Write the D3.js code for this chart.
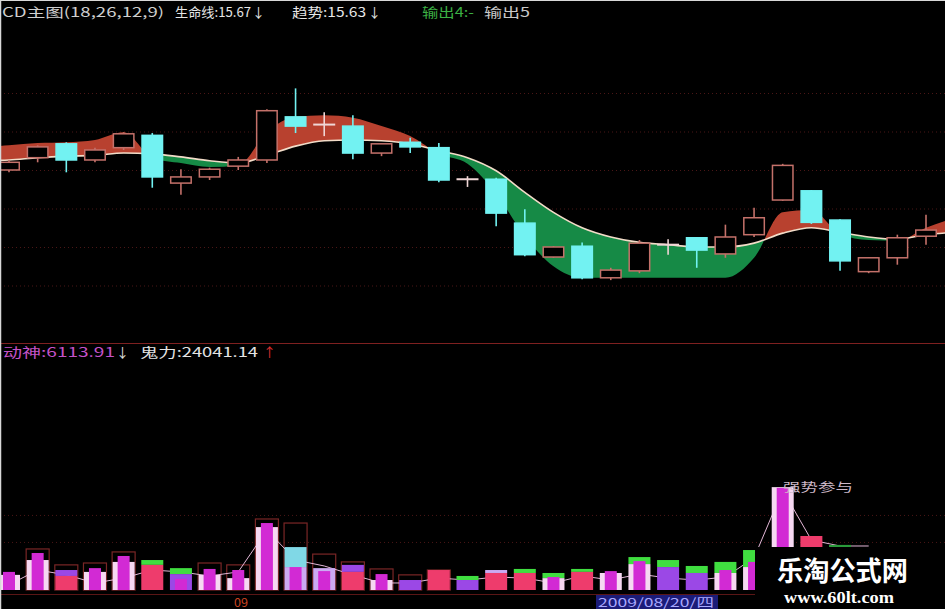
<!DOCTYPE html>
<html><head><meta charset="utf-8">
<script src="https://cdn.jsdelivr.net/npm/d3@7"></script>
<style>html,body{margin:0;padding:0;background:#000;overflow:hidden}</style>
</head><body>
<svg id="c" width="945" height="609"></svg>
<script>
// ---- price panel (candles) ----
const opens  = [15.50,15.66,15.84,15.63,15.79,15.95,15.33,15.41,15.55,15.63,16.19,16.08,16.07,15.72,15.86,15.79,15.39,15.38,14.81,14.37,14.51,14.10,14.19,14.54,14.62,14.41,14.66,15.11,15.23,14.85,14.18,14.36,14.64];
const highs  = [15.63,15.82,15.86,15.79,15.99,15.98,15.51,15.53,15.67,16.29,16.56,16.25,16.21,15.84,15.92,15.85,15.42,15.40,14.99,14.51,14.56,14.23,14.59,14.60,14.63,14.79,15.01,15.58,15.24,14.86,14.37,14.66,14.92];
const lows   = [15.47,15.60,15.47,15.60,15.76,15.27,15.18,15.37,15.50,15.59,15.98,15.94,15.64,15.68,15.72,15.34,15.28,14.77,14.38,14.36,14.08,14.07,14.16,14.40,14.23,14.36,14.63,15.10,14.80,14.19,14.16,14.27,14.53];
const closes = [15.60,15.80,15.63,15.76,15.97,15.41,15.41,15.51,15.63,16.27,16.07,16.09,15.72,15.84,15.80,15.37,15.38,14.94,14.40,14.50,14.10,14.20,14.55,14.53,14.46,14.63,14.88,15.56,14.82,14.32,14.36,14.62,14.72];
// life line and trend line, indices -1 .. 33
const lifeLine  = [15.62,15.63,15.66,15.68,15.69,15.72,15.71,15.67,15.62,15.59,15.69,15.81,15.88,15.89,15.88,15.84,15.75,15.66,15.49,15.21,14.95,14.75,14.63,14.56,14.53,14.50,14.50,14.55,14.68,14.75,14.69,14.63,14.60,14.66,14.69];
const trendLine = [15.80,15.82,15.85,15.86,15.89,15.99,15.66,15.59,15.54,15.56,15.99,16.19,16.21,16.18,16.07,15.94,15.71,15.58,15.19,14.64,14.25,14.10,14.10,14.10,14.10,14.10,14.10,14.36,14.95,14.98,14.67,14.59,14.58,14.75,14.88];
const priceGrid = [14.0,14.5,15.0,15.5,16.0,16.5];

// ---- volume panel ----
const baseVol  = [5.6,11.1,5.2,6.7,10.4,9.3,5.9,5.6,4.4,23.3,8.5,8.1,6.7,3.7,3.7,7.4,3.7,6.3,6.3,4.4,6.7,6.3,9.6,8.5,6.3,6.3,8.5,38.1,20.0,16.7,null,null,null];
const baseType = ['white','white','red','white','white','red','violet','white','white','white','lavender','lavender','red','white','violet','red','violet','red','red','white','red','white','white','violet','violet','white','white','white','red','dkgreen',null,null,null];
const capVol   = [null,null,7.4,null,null,11.1,8.1,null,null,null,15.9,null,9.3,null,null,null,5.2,7.4,7.8,6.3,7.8,null,12.2,11.1,8.9,10.4,14.8,null,null,null,null,null,null];
const capType  = [null,null,'violet',null,null,'green','green',null,null,null,'cyan',null,'violet',null,null,null,'green','lavender','green','green','green',null,'green','green','green','green','green',null,null,null,null,null,null];
const innerVol = [6.7,13.7,null,8.1,12.6,null,4.1,7.8,7.4,24.8,8.5,7.0,null,5.9,null,null,null,null,null,4.8,null,7.0,10.7,null,null,7.4,10.4,37.8,null,null,null,null,null];
const frameVol = [null,15.2,9.3,10.0,14.1,null,null,10.0,9.3,26.3,24.8,13.3,10.4,7.8,5.6,7.4,null,null,null,null,null,null,null,null,null,null,null,null,null,null,null,null,null];
const volLine  = [1.9,7.4,5.6,2.6,4.4,7.4,6.7,5.2,6.7,22.2,11.1,8.9,5.6,2.6,2.6,4.4,3.7,4.8,4.4,2.6,5.2,3.7,5.9,4.4,3.7,4.8,11.9,37.0,18.5,16.3,16.3];
const volGrid = [17.8,27.8];

const colors = {white:'#f6d8f2',red:'#ee3c6c',violet:'#9b48e6',lavender:'#cbaaf2',green:'#40de40',dkgreen:'#2a9a3a',cyan:'#80d8e6',magenta:'#d22ad4'};

const W = 945, H = 609;
const svg = d3.select('#c');
svg.append('rect').attr('width',W).attr('height',H).attr('fill','#000');
const defs = svg.append('defs');

const x = d3.scaleLinear().domain([0,32]).range([9,926]);
const y = d3.scaleLinear().domain([13.5,17.5]).range([324,16]);
const yv = d3.scaleLinear().domain([0,10]).range([590,563]);
const bw = 22;

// grid lines via axes
svg.append('g')
  .call(d3.axisLeft(y).tickValues(priceGrid).tickSize(-W).tickFormat(''))
  .call(g=>{g.select('.domain').remove();g.selectAll('line').attr('stroke','#4a1616').attr('stroke-dasharray','1,3');});
svg.append('g')
  .call(d3.axisLeft(yv).tickValues(volGrid).tickSize(-W).tickFormat(''))
  .call(g=>{g.select('.domain').remove();g.selectAll('line').attr('stroke','#4a1616').attr('stroke-dasharray','1,3');});

// clip paths
const curve = d3.curveMonotoneX;
const lx = (d,i)=>x(i-1);
defs.append('clipPath').attr('id','panel').append('rect').attr('x',0).attr('y',0).attr('width',W).attr('height',343);
defs.append('clipPath').attr('id','above').append('path')
  .attr('d', d3.area().x(lx).y0(0).y1(d=>y(d)).curve(curve)(lifeLine));
defs.append('clipPath').attr('id','below').append('path')
  .attr('d', d3.area().x(lx).y0(343).y1(d=>y(d)).curve(curve)(lifeLine));

const topG = svg.append('g').attr('clip-path','url(#panel)');
const band = d3.area().x(lx).y0((d,i)=>y(lifeLine[i])).y1(d=>y(d)).curve(curve);
topG.append('g').attr('clip-path','url(#above)').append('path').attr('d',band(trendLine)).attr('fill','#b8412f');
topG.append('g').attr('clip-path','url(#below)').append('path').attr('d',band(trendLine)).attr('fill','#168a46');
topG.append('path').attr('d', d3.line().x(lx).y(d=>y(d)).curve(curve)(lifeLine))
  .attr('fill','none').attr('stroke','#f2dcc8').attr('stroke-width',1.6);

// candles
const upCol = '#c4716a', dnCol = '#72f2f2', dojiCol = '#f0d6d6';
opens.forEach((o,i)=>{
  const c = closes[i];
  const cx = x(i);
  const doji = Math.abs(c-o) < 0.02;
  const up = c >= o;
  const col = doji ? dojiCol : (up ? upCol : dnCol);
  topG.append('line').attr('x1',cx).attr('x2',cx).attr('y1',y(highs[i])).attr('y2',y(lows[i]))
    .attr('stroke',col).attr('stroke-width',1.6);
  if (doji) {
    topG.append('line').attr('x1',cx-bw/2).attr('x2',cx+bw/2).attr('y1',y(c)).attr('y2',y(c))
      .attr('stroke',col).attr('stroke-width',2);
  } else {
    const yt = y(Math.max(o,c)), yb = y(Math.min(o,c));
    topG.append('rect').attr('x',cx-bw/2+0.75).attr('y',yt).attr('width',bw-1.5).attr('height',Math.max(1,yb-yt))
      .attr('fill', up ? '#000' : dnCol).attr('stroke', col).attr('stroke-width',1.5);
  }
});

// separator & axis line
svg.append('line').attr('x1',0).attr('x2',W).attr('y1',343.5).attr('y2',343.5).attr('stroke','#7e2020').attr('stroke-width',1);
svg.append('line').attr('x1',0).attr('x2',W).attr('y1',594.5).attr('y2',594.5).attr('stroke','#5a1616').attr('stroke-width',1);

// volume panel
const vol = svg.append('g');
frameVol.forEach((v,i)=>{ if(v==null) return;
  vol.append('rect').attr('x',x(i)-bw/2-0.5).attr('y',yv(v)).attr('width',bw+1).attr('height',yv(0)-yv(v))
    .attr('fill','none').attr('stroke','#7a2626').attr('stroke-width',1.2);
});
vol.append('path').attr('d', d3.line().x((d,i)=>x(i)).y(d=>yv(d))(volLine))
  .attr('fill','none').attr('stroke','#e2b6d6').attr('stroke-width',1);
baseVol.forEach((v,i)=>{
  const cx = x(i);
  if (capVol[i]!=null) {
    vol.append('rect').attr('x',cx-bw/2).attr('y',yv(capVol[i])).attr('width',bw).attr('height',yv(v)-yv(capVol[i]))
      .attr('fill',colors[capType[i]]);
  }
  if (v!=null) {
    vol.append('rect').attr('x',cx-bw/2).attr('y',yv(v)).attr('width',bw).attr('height',yv(0)-yv(v))
      .attr('fill',colors[baseType[i]]);
  }
  if (innerVol[i]!=null) {
    vol.append('rect').attr('x',cx-6).attr('y',yv(innerVol[i])).attr('width',12).attr('height',yv(0)-yv(innerVol[i]))
      .attr('fill',colors.magenta);
  }
});

// texts
const F = '"Noto Sans CJK SC","Noto Sans",sans-serif';
function t(str,xp,yp,fill,len,size,extra){
  const e = svg.append('text').attr('x',xp).attr('y',yp).attr('fill',fill)
    .attr('font-family',F).attr('font-size',size||13).text(str);
  if (len) e.attr('textLength',len).attr('lengthAdjust','spacingAndGlyphs');
  if (extra) extra(e);
  return e;
}
t('CD主图(18,26,12,9)',2,17,'#cfcfcf',162);
t('生命线:15.67',175,17,'#e6e6e6',76);
t('↓',252,17,'#e6e6e6');
t('趋势:15.63',292,17,'#e6e6e6',74);
t('↓',368,17,'#e6e6e6');
t('输出4:-',422,17,'#3cb044',52);
t('输出5',484,17,'#c8c8c8',46);

t('动神:6113.91',3,357,'#c452c8',112);
t('↓',116,357,'#e0e0e0');
t('鬼力:24041.14',140,357,'#e4e4e4',118);
t('↑',263,357,'#e03030');

t('强势参与',783,492,'#cdb8c8',70,12);
t('09',234,607,'#cc4422',14,12);

svg.append('rect').attr('x',596).attr('y',595).attr('width',122).attr('height',14).attr('fill','#1c1c78');
t('2009/08/20/四',598,607,'#a8a8ff',116,12);

// watermark
svg.append('rect').attr('x',755).attr('y',547).attr('width',190).attr('height',62).attr('fill','#000');
t('乐淘公式网',777,581,'#ffffff',131,27,e=>e.attr('font-weight','bold'));
svg.append('text').attr('x',784).attr('y',603).attr('fill','#fff').attr('font-family','"Liberation Serif","DejaVu Serif",serif')
  .attr('font-weight','bold').attr('font-size',17).attr('textLength',110).attr('lengthAdjust','spacingAndGlyphs').text('www.60lt.com');

// frame borders
svg.append('line').attr('x1',0.5).attr('x2',0.5).attr('y1',0).attr('y2',H).attr('stroke','#d8d8d8').attr('stroke-width',1.5);
svg.append('line').attr('x1',0).attr('x2',W).attr('y1',0.5).attr('y2',0.5).attr('stroke','#d8d8d8').attr('stroke-width',1);
</script>
</body></html>
